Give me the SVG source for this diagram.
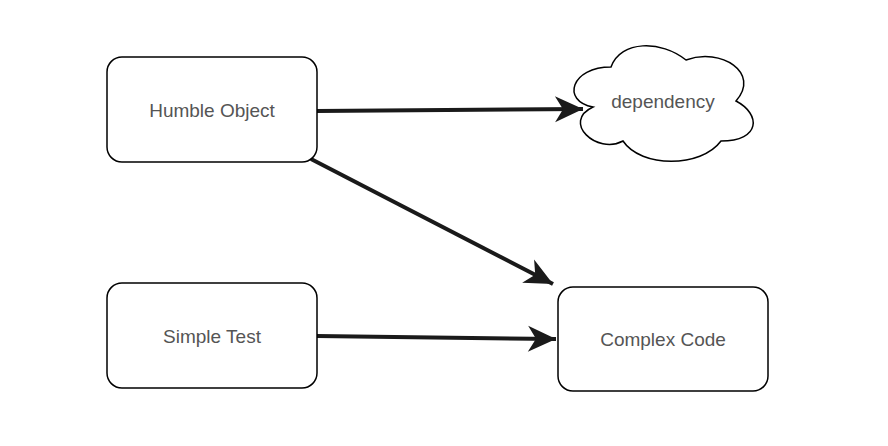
<svg xmlns="http://www.w3.org/2000/svg" width="888" height="446" viewBox="0 0 888 446">
<style>
.n{fill:#fff;stroke:#000;stroke-width:1.5}
.t{font-family:"Liberation Sans",Arial,sans-serif;font-size:19px;fill:#555;text-anchor:middle;dominant-baseline:central}
.c{stroke:#1a1a1a;stroke-width:4;fill:none}
</style>
<defs>
<marker id="a" markerUnits="userSpaceOnUse" markerWidth="40" markerHeight="40" refX="30" refY="15" orient="auto" viewBox="0 0 40 30">
<path d="M30,15 L2,2 L10,15 L2,28 Z" fill="#1a1a1a"/>
</marker>
</defs>
<rect width="888" height="446" fill="#fff"/>
<g id="connectors">
<path class="c" d="M317,111 L583,109" marker-end="url(#a)"/>
<path class="c" d="M311,159 L553,284" marker-end="url(#a)"/>
<path class="c" d="M317,336 L556,339" marker-end="url(#a)"/>
</g>
<g id="humble"><rect class="n" x="107" y="57" width="210" height="105" rx="15"/><text class="t" x="212" y="110">Humble Object</text></g>
<g id="simple"><rect class="n" x="107" y="283" width="210" height="105" rx="15"/><text class="t" x="212" y="336">Simple Test</text></g>
<g id="complex"><rect class="n" x="558" y="287" width="210" height="104" rx="15"/><text class="t" x="663" y="339">Complex Code</text></g>
<g id="dependency">
<path class="n" transform="translate(561,33)" d="M50,34 C10,34 0,68 32,74 C0,89 36,122 62,108 C80,135 140,135 160,108 C200,108 200,81 175,68 C200,40 160,14 125,27 C100,7 60,7 50,34 Z"/>
<text class="t" x="663" y="101">dependency</text>
</g>
</svg>
